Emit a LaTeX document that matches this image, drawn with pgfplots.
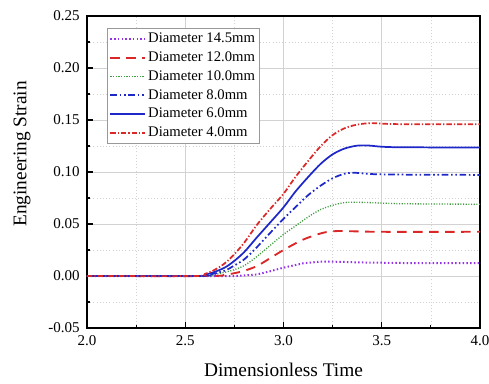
\documentclass[border=0pt]{standalone}
\usepackage{fontspec}
\setmainfont{Liberation Serif}
\usepackage{pgfplots}
\pgfplotsset{compat=1.18}
\definecolor{cpurple}{RGB}{150,50,230}
\definecolor{cred}{RGB}{218,40,40}
\definecolor{cgreen}{RGB}{60,155,60}
\definecolor{cblue}{RGB}{30,40,200}
\begin{document}
\begin{tikzpicture}
\begin{axis}[
  name=ax,
  scale only axis,
  width=294.75pt, height=234pt,
  xmin=2.0, xmax=4.0, ymin=-0.05, ymax=0.25,
  xtick={2.0,2.5,3.0,3.5,4.0},
  ytick={-0.05,0,0.05,0.10,0.15,0.20,0.25},
  minor x tick num=1, minor y tick num=1,
  tick align=inside, xtick pos=bottom, ytick pos=left,
  major tick length=4.5pt, minor tick length=2.5pt,
  every tick/.style={black, line width=0.8pt},
  axis line style={black, line width=1pt},
  grid=both,
  major grid style={gray!35, line width=0.6pt},
  minor grid style={gray!35, dotted, line width=0.5pt},
  /pgf/number format/assume math mode=true,
  xticklabel={\pgfmathprintnumber[fixed,fixed zerofill,precision=1]{\tick}},
  yticklabel={\pgfmathprintnumber[fixed,fixed zerofill,precision=2]{\tick}},
  ticklabel style={font=\fontsize{11.25}{13}\selectfont},
  xticklabel style={inner sep=0pt, anchor=north, yshift=-5.5pt},
  yticklabel style={inner sep=0pt, anchor=east, xshift=-5.25pt},
  xlabel={Dimensionless Time},
  ylabel={Engineering Strain},
  every axis x label/.style={at={(axis description cs:0.5,-0.156)}, anchor=base, font=\fontsize{14.5}{16}\selectfont},
  every axis y label/.style={at={(axis description cs:-0.1654,0.558)}, anchor=center, rotate=90, font=\fontsize{14.5}{16}\selectfont},
  legend style={at={(axis description cs:0.051,0.962)}, anchor=north west, draw=gray!80, line width=0.6pt,
    font=\fontsize{11}{12}\selectfont, inner sep=1.5pt, row sep=1.3pt, fill=white},
  legend cell align=left,
  legend image code/.code={\draw[#1] (0cm,0cm) -- (0.9cm,0cm);},
]
\addplot[cpurple, line width=1.5pt, dash pattern=on 1.1pt off 1.7pt] coordinates {
(2.0,0) (2.75,0) (2.8,0.0005) (2.864,0.0015) (2.93,0.0045) (3.0,0.008) (3.1,0.0122) (3.18,0.0137) (3.25,0.0138) (3.4,0.013) (3.6,0.0125) (4.0,0.0125)};
\addlegendentry{Diameter 14.5mm}
\addplot[cred, line width=1.4pt, dash pattern=on 7pt off 5pt, smooth] coordinates {
(2.0,0) (2.62,0) (2.7,0.0012) (2.745,0.0025) (2.8,0.005) (2.864,0.0095) (2.931,0.017) (3.0,0.025) (3.1,0.035) (3.2,0.0415) (3.27,0.0432) (3.35,0.043) (3.5,0.0425) (4.0,0.0425)};
\addlegendentry{Diameter 12.0mm}
\addplot[cgreen, line width=1pt, dash pattern=on 0.8pt off 1.2pt, smooth] coordinates {
(2.0,0) (2.58,0) (2.65,0.0015) (2.7,0.0035) (2.745,0.0058) (2.8,0.010) (2.864,0.0186) (2.93,0.029) (3.0,0.040) (3.06,0.048) (3.127,0.057) (3.19,0.064) (3.25,0.068) (3.3,0.0703) (3.35,0.071) (3.45,0.0705) (3.6,0.0695) (4.0,0.069)};
\addlegendentry{Diameter 10.0mm}
\addplot[cblue, line width=1.3pt, dash pattern=on 5pt off 2pt on 1.2pt off 2pt on 1.2pt off 2pt, smooth] coordinates {
(2.0,0) (2.57,0) (2.62,0.0012) (2.7,0.005) (2.745,0.0096) (2.8,0.016) (2.864,0.0276) (2.93,0.041) (3.0,0.055) (3.06,0.066) (3.127,0.078) (3.19,0.087) (3.25,0.094) (3.31,0.0983) (3.36,0.0993) (3.45,0.098) (3.6,0.0975) (4.0,0.0972)};
\addlegendentry{Diameter 8.0mm}
\addplot[cblue, line width=1.3pt, smooth] coordinates {
(2.0,0) (2.56,0) (2.6,0.0012) (2.65,0.004) (2.7,0.008) (2.745,0.0138) (2.8,0.023) (2.864,0.037) (2.93,0.051) (3.0,0.066) (3.06,0.081) (3.127,0.0955) (3.19,0.108) (3.25,0.117) (3.31,0.1225) (3.373,0.1253) (3.43,0.1255) (3.5,0.1243) (3.6,0.1238) (4.0,0.1235)};
\addlegendentry{Diameter 6.0mm}
\addplot[cred, line width=1.3pt, dash pattern=on 4pt off 1.5pt on 1pt off 1.5pt, smooth] coordinates {
(2.0,0) (2.55,0) (2.6,0.002) (2.65,0.006) (2.7,0.012) (2.745,0.020) (2.8,0.032) (2.864,0.049) (2.93,0.064) (3.0,0.079) (3.06,0.095) (3.127,0.111) (3.19,0.125) (3.25,0.1355) (3.31,0.142) (3.373,0.1455) (3.44,0.147) (3.5,0.1465) (3.6,0.146) (4.0,0.146)};
\addlegendentry{Diameter 4.0mm}
\end{axis}
\pgfresetboundingbox
\path ([shift={(-65.25pt,-41.25pt)}]ax.south west) rectangle ([shift={(6.75pt,12pt)}]ax.north east);
\end{tikzpicture}
\end{document}
